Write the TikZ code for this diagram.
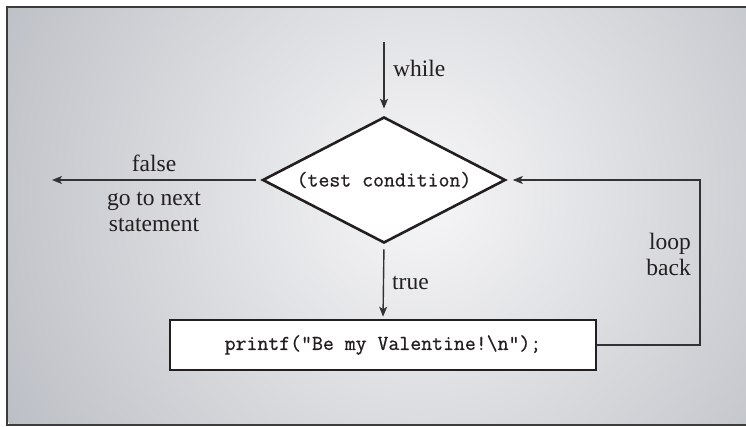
\documentclass[tikz,border=0pt]{standalone}
\usepackage{fontspec}
\setmainfont{Liberation Serif}
\newfontfamily\codefont{Latin Modern Mono}[FakeBold=0.7]
\usetikzlibrary{shapes.geometric,arrows.meta}
\definecolor{bgin}{RGB}{247,247,248}
\definecolor{bgout}{RGB}{188,191,197}
\definecolor{framec}{RGB}{60,60,62}
\definecolor{linec}{RGB}{50,50,52}
\definecolor{inkc}{RGB}{35,31,32}
\begin{document}
\begin{tikzpicture}[x=1pt,y=-1pt,
  lbl/.style={inner sep=0pt,text=inkc,font=\fontsize{23.5}{26}\selectfont},
  code/.style={text=inkc,font=\codefont\fontsize{21.2}{22}\selectfont},
  decision/.style={diamond,draw=inkc,fill=white,line width=2.6pt,inner sep=0pt,
    minimum width=243pt,minimum height=126pt,aspect=1.93},
  stmtbox/.style={rectangle,draw=inkc,fill=white,line width=2.6pt,inner sep=0pt,
    minimum width=426pt,minimum height=50pt},
  arr/.style={draw=linec,line width=1.4pt,-{Stealth[length=10pt,width=8pt,inset=2.5pt]}}]
\useasboundingbox (0,0) rectangle (746,427);
\begin{scope}
  \clip (7,7) rectangle (746,425);
  \shade[inner color=bgin,outer color=bgout] (420,195) circle (470pt);
\end{scope}
\draw[framec,line width=2.6pt] (760,7) -- (7,7) -- (7,425) -- (760,425);

\node[decision] (d) at (384,180) {};
\node[code] (dt) at (d.center) {(test condition)};
\node[stmtbox] (b) at (383,345) {};
\node[code] (bt) at (b.center) {printf("Be my Valentine!\textbackslash n");};

\coordinate (wtop) at (384,42);
\coordinate (fend) at (52,180);
\coordinate (lc) at (700,345);

\draw[arr,shorten >=7pt] (wtop) -- (d.north);
\draw[arr,shorten <=5pt] (d.west) -- (fend);
\draw[arr,shorten <=5pt,shorten >=2pt] (d.south) -- (b.north);
\draw[arr,shorten >=6pt] (b.east) -- (lc) |- (d.east);

\node[lbl,anchor=west] (lw) at (393,68) {while};
\node[lbl,anchor=west] (lt) at (392,283) {true};
\node[lbl] (lf) at (154,163) {false};
\node[lbl,align=center] (lg) at (154,212) {go to next\\statement};
\node[lbl,align=right,anchor=east] (ll) at (691,254) {loop\\back};
\end{tikzpicture}
\end{document}
